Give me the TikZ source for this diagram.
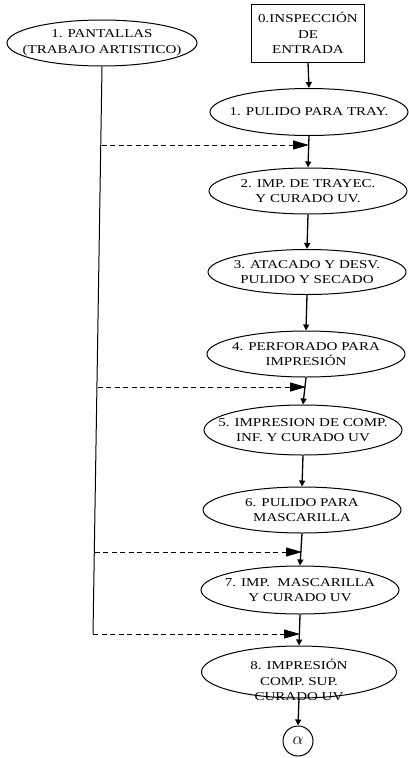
\documentclass[tikz,border=0pt]{standalone}
\usepackage{fontspec}
\setmainfont{Liberation Serif}[FakeStretch=1.25]
\usetikzlibrary{shapes.geometric,arrows.meta}

\tikzset{
  proctext/.style={font={\fontsize{12}{15.5}\selectfont}, align=center},
  proc/.style={draw, ellipse, line width=1pt, proctext,
    inner xsep=-40pt, inner ysep=-4pt, minimum width=198pt, minimum height=46pt},
  inspbox/.style={draw, rectangle, line width=1pt, proctext,
    inner sep=1pt, minimum width=113pt, minimum height=58pt},
  flow/.style={line width=1.3pt, -{Triangle[length=6pt,width=6pt]}},
  feed/.style={line width=1pt, dash pattern=on 5pt off 3.5pt,
    -{Triangle[length=16pt,width=9pt]}},
}

\begin{document}
\begin{tikzpicture}[x=1pt,y=-1pt]
  \useasboundingbox (0,0) rectangle (409,758);

  % left branch
  \node[proc, minimum width=190pt] (pant) at (102,43) {1. PANTALLAS\\(TRABAJO ARTISTICO)};

  % main column
  \node[inspbox] (insp) at (308,33) {0.INSPECCIÓN\\DE\\ENTRADA};
  \node[proc, minimum height=47pt] (e1) at (309,112) {1. PULIDO PARA TRAY.};
  \node[proc] (e2) at (308,191) {2. IMP. DE TRAYEC.\\Y CURADO UV.};
  \node[proc, minimum height=45pt] (e3) at (307,272) {3. ATACADO Y DESV.\\PULIDO Y SECADO};
  \node[proc] (e4) at (306,354) {4. PERFORADO PARA\\IMPRESIÓN};
  \node[proc, minimum height=50pt] (e5) at (303,430) {5. IMPRESION DE COMP.\\INF. Y CURADO UV};
  \node[proc] (e6) at (302,510) {6. PULIDO PARA\\MASCARILLA};
  \node[proc, minimum height=48pt] (e7) at (300,590) {7. IMP.~~MASCARILLA\\Y CURADO UV};
  \node[proc, minimum width=195pt, minimum height=52pt,
    label={[proctext, yshift=-8pt]center:{8. IMPRESIÓN\\COMP. SUP.\\CURADO UV}}] (e8) at (299,672) {};
  \node[draw, circle, line width=1pt, minimum size=30pt, inner sep=0pt] (alfa) at (298,741) {\LARGE$\alpha$};

  % solid flow
  \draw[flow] (insp.south) -- (e1.north);
  \draw[flow] (e1.south) -- (e2.north);
  \draw[flow] (e2.south) -- (e3.north);
  \draw[flow] (e3.south) -- (e4.north);
  \draw[flow] (e4.south) -- (e5.north);
  \draw[flow] (e5.south) -- (e6.north);
  \draw[flow] (e6.south) -- (e7.north);
  \draw[flow] (e7.south) -- (e8.north);
  \draw[flow] (e8.south) -- (alfa.north);

  % line down from pantallas
  \coordinate (pend) at (93,634);
  \draw[line width=1pt] (pant.south) -- (pend);

  % dashed feeds
  \coordinate (d1) at (101.5,145);
  \coordinate (d2) at (97.5,387);
  \coordinate (d3) at (94.5,552);
  \draw[feed] (d1) -- (d1 -| e1.south);
  \draw[feed] (d2) -- (d2 -| e4.south);
  \draw[feed] (d3) -- (d3 -| e6.south);
  \draw[feed] (pend) -- (pend -| e7.south);
\end{tikzpicture}
\end{document}
